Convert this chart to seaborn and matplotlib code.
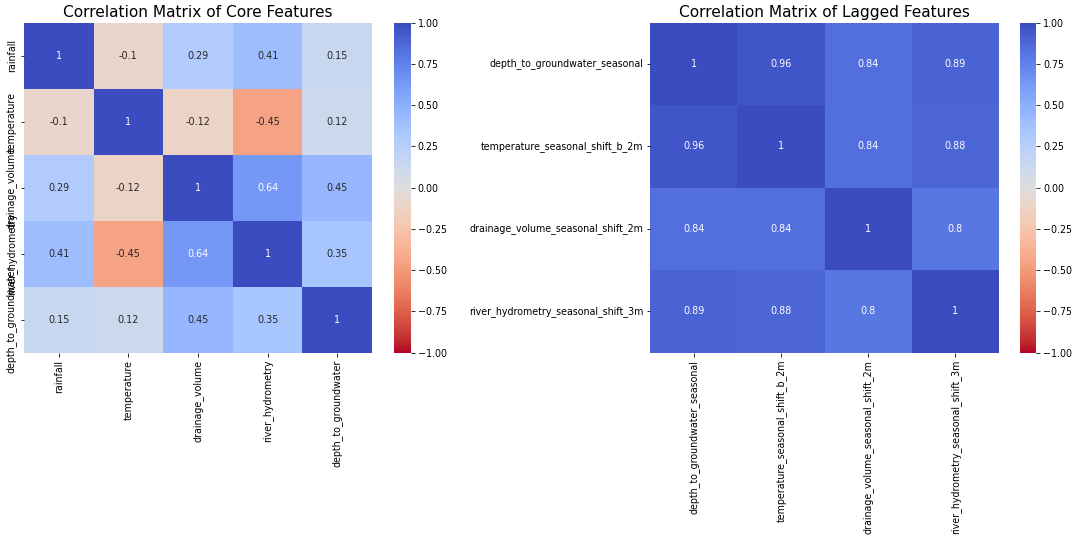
import numpy as np
import pandas as pd
import matplotlib
matplotlib.use("Agg")
import matplotlib.pyplot as plt
import seaborn as sns

core_labels = ["rainfall", "temperature", "drainage_volume", "river_hydrometry", "depth_to_groundwater"]
core_corr = [
    [1.00, -0.10, 0.29, 0.41, 0.15],
    [-0.10, 1.00, -0.12, -0.45, 0.12],
    [0.29, -0.12, 1.00, 0.64, 0.45],
    [0.41, -0.45, 0.64, 1.00, 0.35],
    [0.15, 0.12, 0.45, 0.35, 1.00],
]

lag_labels = ["depth_to_groundwater_seasonal", "temperature_seasonal_shift_b_2m",
              "drainage_volume_seasonal_shift_2m", "river_hydrometry_seasonal_shift_3m"]
lag_corr = [
    [1.00, 0.96, 0.84, 0.89],
    [0.96, 1.00, 0.84, 0.88],
    [0.84, 0.84, 1.00, 0.80],
    [0.89, 0.88, 0.80, 1.00],
]

W, H = 1080, 542
fig = plt.figure(figsize=(W / 72, H / 72), dpi=72)
plt.rcParams['font.family'] = ['DejaVu Sans']

def box(x0, x1, y0, y1):
    return [x0 / W, 1 - y1 / H, (x1 - x0) / W, (y1 - y0) / H]

ax1 = fig.add_axes(box(24, 372, 22.7, 352.7))
cax1 = fig.add_axes(box(394, 410.7, 22.7, 352.7))
ax2 = fig.add_axes(box(650, 999, 22.7, 352.7))
cax2 = fig.add_axes(box(1020, 1036, 22.7, 352.7))

df1 = pd.DataFrame(core_corr, index=core_labels, columns=core_labels)
df2 = pd.DataFrame(lag_corr, index=lag_labels, columns=lag_labels)

sns.heatmap(df1, annot=True, cmap="coolwarm_r", vmin=-1, vmax=1, ax=ax1, cbar_ax=cax1,
            annot_kws={"fontsize": 9.6})
sns.heatmap(df2, annot=True, cmap="coolwarm_r", vmin=-1, vmax=1, ax=ax2, cbar_ax=cax2,
            annot_kws={"fontsize": 9.6})

ax1.set_title("Correlation Matrix of Core Features", fontsize=15.4)
ax2.set_title("Correlation Matrix of Lagged Features", fontsize=15.4)

for ax in (ax1, ax2):
    ax.tick_params(axis="both", labelsize=9.5)
    ax.set_xlabel("")
    ax.set_ylabel("")
    plt.setp(ax.get_xticklabels(), rotation=90)
plt.setp(ax1.get_yticklabels(), rotation=90, va="center")
plt.setp(ax2.get_yticklabels(), rotation=0, va="center")
for cax in (cax1, cax2):
    cax.tick_params(labelsize=9.5)

fig.savefig("out.png", dpi=72)
